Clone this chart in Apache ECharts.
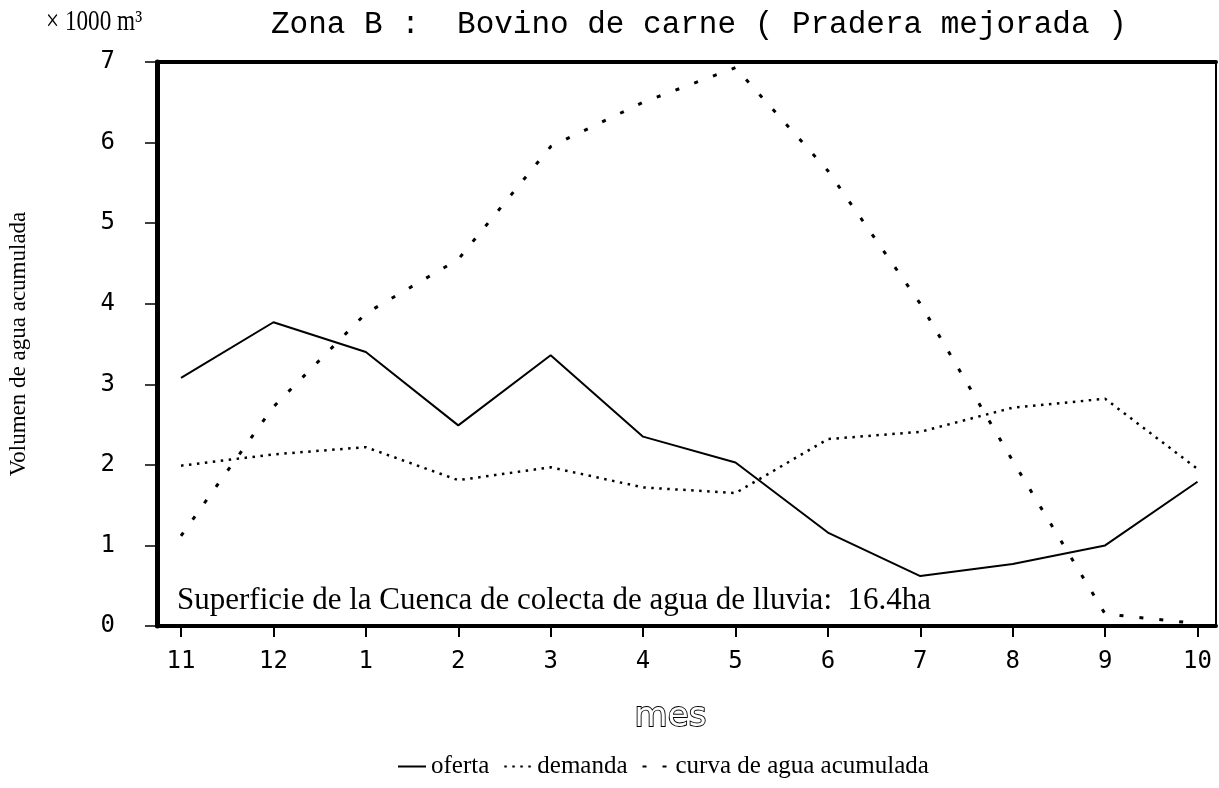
<!DOCTYPE html>
<html>
<head>
<meta charset="utf-8">
<script src="https://cdn.jsdelivr.net/npm/echarts@6/dist/echarts.min.js"></script>
<style>
  html, body { margin: 0; padding: 0; background: #fff; }
  #chart { width: 1219px; height: 788px; }
</style>
</head>
<body>
<div id="chart"></div>
<script>
// Months of the water year, November to October
const months = ['11', '12', '1', '2', '3', '4', '5', '6', '7', '8', '9', '10'];
// Volumes in thousands of cubic metres
const oferta  = [3.08, 3.77, 3.40, 2.49, 3.36, 2.35, 2.03, 1.16, 0.62, 0.77, 1.00, 1.79];
const demanda = [1.99, 2.13, 2.22, 1.81, 1.97, 1.72, 1.65, 2.32, 2.41, 2.71, 2.82, 1.95];
const curva   = [1.12, 2.72, 3.88, 4.55, 5.95, 6.50, 6.93, 5.65, 4.00, 2.05, 0.15, 0.03];
const yTicks  = [0, 1, 2, 3, 4, 5, 6, 7];

const SERIF = "'Liberation Serif', 'DejaVu Serif', serif";
const MONO = "'DejaVu Sans Mono', monospace";

const idx = months.map((_, i) => i);
const pairs = arr => arr.map((v, i) => [i, v]);

const chart = echarts.init(document.getElementById('chart'), null, { renderer: 'canvas' });

const xBase = {
  type: 'value',
  min: -0.26,
  max: 11.2,
  splitLine: { show: false },
  axisLine: { show: true, onZero: false, lineStyle: { color: '#000', width: 4 } }
};

chart.setOption({
  animation: false,
  backgroundColor: '#fff',
  title: {
    text: 'Zona B :  Bovino de carne ( Pradera mejorada )',
    left: 266,
    top: 4,
    textStyle: { fontFamily: "'Liberation Mono', monospace", fontSize: 31, fontWeight: 'normal', color: '#000' }
  },
  grid: {
    left: 157, right: 3, top: 62, bottom: 162,
    outerBoundsMode: 'none',
    containLabel: false,
    show: true, borderColor: '#000', borderWidth: 2, backgroundColor: 'transparent'
  },
  legend: {
    bottom: 4,
    left: 392,
    itemWidth: 28,
    itemHeight: 10,
    itemGap: 14,
    itemStyle: { opacity: 0 },
    textStyle: { fontFamily: SERIF, fontSize: 25, color: '#000' },
    data: ['oferta', 'demanda', 'curva de agua acumulada']
  },
  xAxis: [
    Object.assign({}, xBase, {
      position: 'bottom',
      name: 'mes',
      nameLocation: 'middle',
      nameGap: 74,
      nameTextStyle: {
        fontFamily: "'DejaVu Sans', sans-serif", fontSize: 34, color: '#fff',
        textBorderColor: '#000', textBorderWidth: 1.8, padding: [0, 32, 0, 0]
      },
      axisTick: { show: true, customValues: idx, length: 11, lineStyle: { color: '#000', width: 2 } },
      axisLabel: {
        customValues: idx,
        margin: 24,
        formatter: v => months[Math.round(v)],
        fontFamily: MONO, fontSize: 24, color: '#000'
      }
    }),
    Object.assign({}, xBase, {
      position: 'top',
      axisTick: { show: false },
      axisLabel: { show: false }
    })
  ],
  yAxis: {
    type: 'value',
    min: 0,
    max: 7,
    interval: 1,
    name: 'Volumen de agua acumulada',
    nameLocation: 'middle',
    nameRotate: 90,
    nameGap: 127,
    nameTextStyle: { fontFamily: SERIF, fontSize: 23, color: '#000' },
    splitLine: { show: false },
    axisLine: { show: true, onZero: false, lineStyle: { color: '#000', width: 5 } },
    axisTick: { show: true, length: 12, lineStyle: { color: '#000', width: 1.5 } },
    axisLabel: {
      margin: 42,
      formatter: v => (yTicks.indexOf(v) >= 0 ? String(v) : ''),
      fontFamily: MONO, fontSize: 24, color: '#000'
    }
  },
  series: [
    {
      name: 'oferta', type: 'line', data: pairs(oferta), symbol: 'none',
      lineStyle: { color: '#000', width: 2 }, itemStyle: { color: '#000' }
    },
    {
      name: 'demanda', type: 'line', data: pairs(demanda), symbol: 'none',
      lineStyle: { color: '#000', width: 2.5, type: [2.5, 5.5] }, itemStyle: { color: '#000' }
    },
    {
      name: 'curva de agua acumulada', type: 'line', data: pairs(curva), symbol: 'none',
      lineStyle: { color: '#000', width: 3, type: [4, 16] }, itemStyle: { color: '#000' }
    }
  ],
  graphic: [
    {
      type: 'text', left: 46, top: 8, scaleX: 0.8,
      style: { text: '× 1000 m³', fontFamily: SERIF, fontSize: 29, fill: '#000' }
    },
    {
      type: 'text', left: 177, top: 585,
      style: {
        text: 'Superficie de la Cuenca de colecta de agua de lluvia:  16.4ha',
        fontFamily: SERIF, fontSize: 31, fill: '#000'
      }
    }
  ]
});
</script>
</body>
</html>
